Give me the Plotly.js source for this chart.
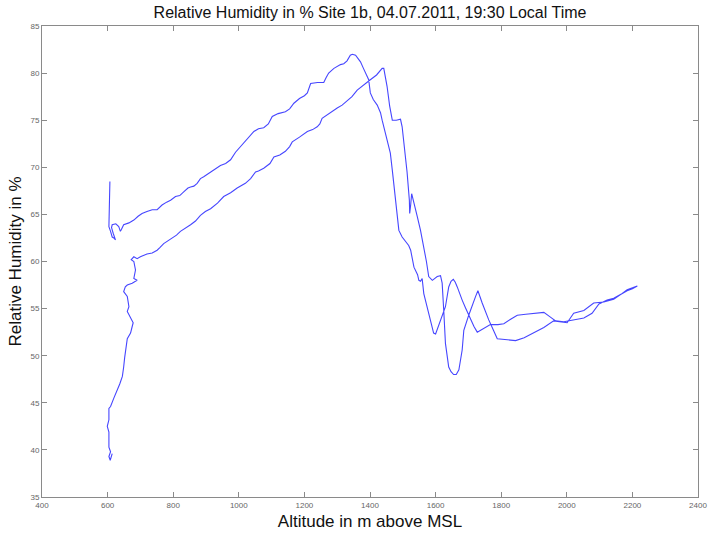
<!DOCTYPE html>
<html>
<head>
<meta charset="utf-8">
<script src="https://cdn.plot.ly/plotly-3.0.1.min.js"></script>
<style>html,body{margin:0;padding:0;background:#fff;}#chart{width:708px;height:533px;}</style>
</head>
<body>
<div id="chart"></div>
<script>
// Flight profile: altitude (m above MSL) and relative humidity (%), in flight order
const altitude = [
607,606,605,604,609,614,619,624,617,612,614,625,634,639,642,649,
665,680,693,705,720,736,751,766,780,792,807,820,832,845,853,863,873,883,893,910,924,934,944,960,975,990,1005,1025,1046,1060,1076,1090,1102,1120,1142,1155,1168,1185,1200,1209,1214,1219,1240,1259,1266,1274,1290,1310,1320,1330,1340,1346,1356,1365,1371,1380,1386,1396,1401,1410,1422,1432,1437,1445,1452,1462,1468,1473,1478,1483,1488,1498,1508,1518,1524,1530,1534,1545,1549,1554,1559,1564,1572,1579,1587,1594,1600,1605,1615,1622,1630,1640,1647,1654,1660,1666,1673,1681,1691,1701,1710,1717,1727,1737,1747,1767,1790,1808,1830,1849,1875,1899,1930,1950,1966,1991,2021,2052,2077,2098,2123,2143,2169,2184,2200,2215,
2200,2184,2164,2143,2113,2082,2052,2021,2001,1980,1960,1930,1899,1870,1844,1815,1788,1775,1762,1742,1729,1722,1711,1701,1686,1681,1671,1663,1655,1647,1640,1635,1630,1625,1622,1620,1615,1605,1590,1579,1572,1564,1554,1544,1534,1527,1524,1521,1520,1518,1513,1508,1503,1498,1493,1480,1468,1460,1452,1445,1442,1437,1420,1401,1380,1361,1345,1330,1315,1300,1280,1262,1254,1247,1239,1225,1209,1185,1170,1163,1155,1142,1125,1107,1095,1076,1060,1051,1036,1020,995,975,954,935,914,898,883,868,853,838,822,810,797,785,771,760,751,736,720,700,690,680,672,680,685,680,690,675,660,654,649,660,665,660,670,678,675,670,660,654,652,649,645,637,629,619,609,604,604,599,604,604,609,604,608,614
];
const humidity = [
68.5,66.0,64.5,63.7,63.2,62.6,62.5,62.3,63.0,63.6,63.9,64.0,63.7,63.2,63.4,63.9,
64.1,64.4,64.8,65.1,65.3,65.5,65.5,66.0,66.3,66.5,66.9,67.0,67.4,67.8,67.9,68.0,68.3,68.8,69.0,69.4,69.7,69.9,70.2,70.4,70.8,71.6,72.2,72.9,73.8,74.1,74.2,74.6,75.4,75.7,75.9,76.2,76.8,77.3,77.6,77.9,78.5,78.9,79.0,79.0,79.5,80.0,80.5,80.9,81.0,81.3,81.9,82.0,81.9,81.5,81.2,80.5,80.0,79.3,77.9,77.2,76.6,75.8,75.0,73.8,72.9,71.5,69.7,68.0,66.2,64.5,63.3,62.6,62.1,61.7,61.2,60.0,59.4,58.6,58.0,57.9,58.2,56.6,55.5,54.5,53.4,52.4,52.3,52.8,53.6,54.3,55.2,57.3,57.9,58.1,57.8,57.3,56.6,55.9,55.1,54.3,53.6,53.1,52.5,52.7,52.9,53.3,53.3,53.4,53.9,54.3,54.4,54.5,54.6,54.1,53.7,53.6,53.8,54.0,54.5,55.5,55.9,56.1,56.6,57.0,57.2,57.4,
57.1,56.9,56.5,56.0,55.7,55.6,54.8,54.5,53.5,53.6,53.7,53.0,52.4,51.9,51.6,51.7,51.8,52.8,53.8,55.6,56.9,56.3,55.3,54.3,52.7,50.6,48.5,48.0,48.0,48.3,48.8,50.0,51.3,54.7,56.5,57.7,58.5,58.4,58.0,58.4,60.0,61.6,63.3,64.8,66.2,67.2,66.0,65.1,66.5,67.6,69.5,71.1,73.0,74.3,75.1,75.0,75.0,76.5,78.6,80.0,80.5,80.5,79.8,79.3,78.7,78.2,77.5,77.0,76.6,76.3,75.8,75.4,75.2,74.6,74.3,74.0,73.8,73.2,72.9,72.7,72.2,71.7,71.3,71.1,70.4,69.9,69.6,69.5,68.8,68.3,67.8,67.3,66.9,66.2,65.6,65.3,64.9,64.3,63.9,63.6,63.2,62.8,62.5,62.2,61.9,61.5,61.2,60.9,60.8,60.5,60.3,60.5,60.2,60.0,59.1,58.2,58.0,57.7,57.5,57.3,56.8,56.3,55.2,54.7,54.1,53.5,53.1,52.4,51.8,50.6,49.8,48.8,47.8,47.0,46.4,45.5,44.6,44.4,43.2,42.5,41.9,40.3,39.8,39.3,38.9,39.6
];
const xTicks = [400,600,800,1000,1200,1400,1600,1800,2000,2200,2400];
const yTicks = [35,40,45,50,55,60,65,70,75,80,85];

const trace = {
  x: altitude, y: humidity, type: 'scatter', mode: 'lines',
  line: {color: 'rgb(70,70,255)', width: 1.1},
  hoverinfo: 'skip'
};
const axisCommon = {
  showgrid: false, zeroline: false, showline: true, linecolor: '#8a8a8a', linewidth: 1,
  mirror: 'ticks', ticks: 'inside', ticklen: 5, tickcolor: '#8a8a8a', tickwidth: 1,
  tickfont: {family: 'Liberation Sans Narrow, Liberation Sans, Arial', size: 8, color: '#666'}
};
const layout = {
  width: 708, height: 533,
  margin: {l: 42, r: 10, t: 26, b: 36, pad: 0},
  paper_bgcolor: '#fff', plot_bgcolor: '#fff',
  showlegend: false,
  title: {text: 'Relative Humidity in % Site 1b, 04.07.2011, 19:30 Local Time',
          font: {family: 'Liberation Sans Narrow, Liberation Sans, Arial', size: 16, color: '#111'},
          xref: 'paper', x: 0.5, xanchor: 'center', y: 0.977, yanchor: 'middle'},
  xaxis: Object.assign({}, axisCommon, {
    range: [400, 2400], tickmode: 'array', tickvals: xTicks, ticktext: xTicks.map(String),
    title: {text: 'Altitude in m above MSL', standoff: 6,
            font: {family: 'Liberation Sans Narrow, Liberation Sans, Arial', size: 17, color: '#111'}}
  }),
  yaxis: Object.assign({}, axisCommon, {
    range: [35, 85], tickmode: 'array', tickvals: yTicks, ticktext: yTicks.map(String),
    title: {text: 'Relative Humidity in %', standoff: 4,
            font: {family: 'Liberation Sans Narrow, Liberation Sans, Arial', size: 17, color: '#111'}}
  })
};
Plotly.newPlot('chart', [trace], layout, {displayModeBar: false, staticPlot: true});
</script>
</body>
</html>
